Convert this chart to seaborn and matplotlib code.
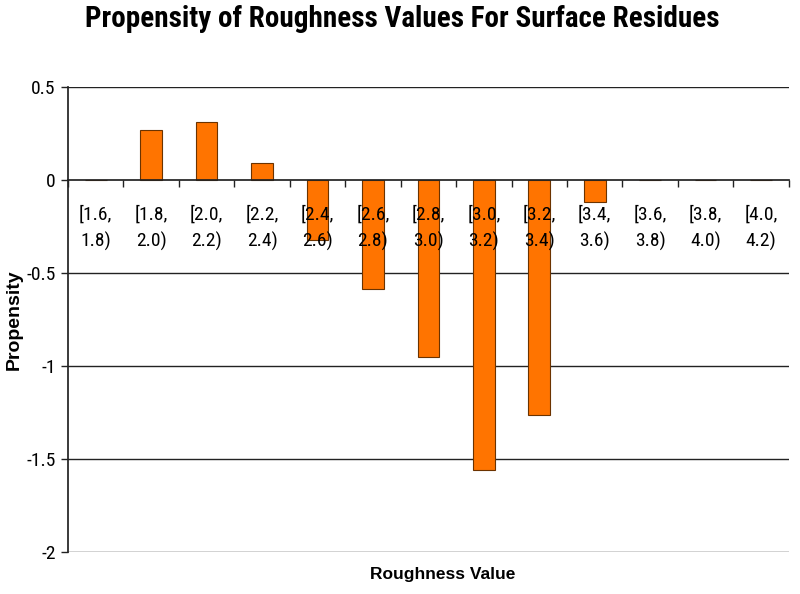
import matplotlib
matplotlib.use("Agg")
import matplotlib.pyplot as plt
from matplotlib import font_manager
import seaborn as sns
import numpy as np
from matplotlib.ticker import FixedLocator, NullFormatter

categories = ["[1.6,\n1.8)", "[1.8,\n2.0)", "[2.0,\n2.2)", "[2.2,\n2.4)", "[2.4,\n2.6)",
              "[2.6,\n2.8)", "[2.8,\n3.0)", "[3.0,\n3.2)", "[3.2,\n3.4)", "[3.4,\n3.6)",
              "[3.6,\n3.8)", "[3.8,\n4.0)", "[4.0,\n4.2)"]
propensity = [0.0, 0.27, 0.31, 0.09, -0.32, -0.585, -0.95, -1.56, -1.265, -0.117, 0.0, 0.0, 0.0]
yticks = [0.5, 0, -0.5, -1, -1.5, -2]
ytick_labels = ["0.5", "0", "-0.5", "-1", "-1.5", "-2"]

sns.set_theme(style="white")

# look for a condensed sans face
names = {f.name for f in font_manager.fontManager.ttflist}
condensed_fonts = [f for f in font_manager.fontManager.ttflist
                   if str(f.stretch) in ("condensed", "semi-condensed", "extra-condensed", "75", "87")
                   or "Narrow" in f.name or "Condensed" in f.name]
narrow_family = None
for cand in ["Liberation Sans Narrow", "Arial Narrow", "DejaVu Sans Condensed", "Roboto Condensed",
             "Open Sans Condensed", "Noto Sans Condensed"]:
    if cand in names:
        narrow_family = cand
        break
if narrow_family is None and condensed_fonts:
    narrow_family = condensed_fonts[0].name

regular = ["Liberation Sans", "DejaVu Sans"]
if narrow_family is not None:
    fam = [narrow_family] + regular
    title_size, tick_size, ytick_size = 21, 14, 14
else:
    fam = regular
    title_size, tick_size, ytick_size = 18, 13, 13
plt.rcParams["font.family"] = fam
plt.rcParams["text.color"] = "black"
plt.rcParams["axes.labelcolor"] = "black"
plt.rcParams["xtick.color"] = "black"
plt.rcParams["ytick.color"] = "black"
plt.rcParams["xtick.labelcolor"] = "black"
plt.rcParams["ytick.labelcolor"] = "black"

fig = plt.figure(figsize=(8, 5.94), dpi=100)
ax = fig.add_axes([0.085, 0.0707, 0.901, 0.7828])

sns.barplot(x=list(range(len(categories))), y=propensity, color="#FF7400",
            width=0.39, edgecolor="#6B3300", linewidth=0.8, saturation=1, ax=ax, zorder=2)

ax.set_xlim(-0.5, len(categories) - 0.5)
ax.set_ylim(-2, 0.5)

for v in yticks:
    if v != 0:
        ax.axhline(v, color="#222222", linewidth=1.0, zorder=0.5)

ax.spines["right"].set_visible(False)
ax.spines["top"].set_visible(False)
ax.spines["bottom"].set_position(("data", 0))
ax.spines["bottom"].set_zorder(3)
ax.spines["bottom"].set_color("#222222")
ax.spines["left"].set_color("#222222")
ax.set_axisbelow(False)

ax.set_yticks(yticks)
ax.set_yticklabels(ytick_labels, fontsize=ytick_size, color="black")
ax.tick_params(axis="y", length=5, width=1, color="#222222", direction="out", pad=4, left=True)

ax.xaxis.set_major_locator(FixedLocator(np.arange(-0.5, len(categories), 1.0)))
ax.xaxis.set_major_formatter(NullFormatter())
ax.set_xticks(np.arange(0, len(categories)), minor=True)
ax.set_xticklabels(categories, minor=True, fontsize=tick_size, linespacing=1.55, color="black")
ax.tick_params(axis="x", which="major", length=5, width=1, color="#222222", direction="out", bottom=True)
ax.tick_params(axis="x", which="minor", length=0, pad=18, bottom=True)

ax.set_xlabel("")
ax.set_ylabel("Propensity", fontsize=14, fontweight="bold", family=regular, color="black")
ax.yaxis.set_label_coords(-0.063, 0.5)

fig.text(0.553, 0.033, "Roughness Value", ha="center", va="center",
         fontsize=12.5, fontweight="bold", family=regular, color="black")
fig.text(0.503, 0.968, "Propensity of Roughness Values For Surface Residues",
         ha="center", va="center", fontsize=title_size, fontweight="bold", color="black")

fig.savefig("out.png", dpi=100)
